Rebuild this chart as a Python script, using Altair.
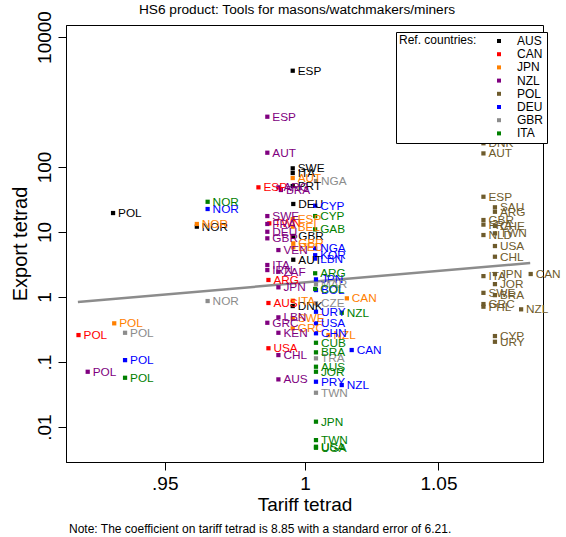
import altair as alt
import pandas as pd

ref_countries = ["AUS", "CAN", "JPN", "NZL", "POL", "DEU", "GBR", "ITA"]
ref_colors = ["#000000", "#FF0000", "#FF8000", "#800080", "#6E5B2C", "#0000FF", "#8C8C8C", "#008000"]

ref = (["AUS"] * 10 + ["CAN"] * 6 + ["JPN"] * 12 + ["NZL"] * 19 + ["POL"] * 23
       + ["DEU"] * 14 + ["GBR"] * 7 + ["ITA"] * 15)

partner = [
    # AUS
    "POL", "NOR", "ESP", "SWE", "ITA", "PRT", "DEU", "GBR", "AUT", "DNK",
    # CAN
    "POL", "ESP", "TWN", "ARG", "AUS", "USA",
    # JPN
    "POL", "NOR", "AUT", "ESP", "BEL", "GBR", "DEU", "ITA", "SWE", "GRC", "CAN", "NZL",
    # NZL
    "POL", "ESP", "AUT", "ARG", "BRA", "SWE", "FRA", "DEU", "GBR", "VEN", "ITA", "IRN",
    "ZAF", "JPN", "LBN", "GRC", "KEN", "CHL", "AUS",
    # POL
    "DNK", "AUT", "ESP", "SAU", "ARG", "GBR", "FRA", "CHE", "NLD", "TWN", "USA", "CHL",
    "ITA", "JPN", "CAN", "JOR", "SWE", "BRA", "GRC", "PHL", "NZL", "CYP", "URY",
    # DEU
    "NOR", "POL", "CYP", "NGA", "KOR", "LBN", "JPN", "BOL", "URY", "USA", "CHN", "CAN",
    "PRY", "NZL",
    # GBR
    "NOR", "POL", "NGA", "MAR", "CZE", "TRA", "TWN",
    # ITA
    "NOR", "POL", "CYP", "GAB", "ARG", "COL", "NZL", "CUB", "BRA", "AUS", "JOR", "JPN",
    "TWN", "USA", "UGA",
]

tariff = [
    # AUS
    0.9322, 0.9612, 0.9955, 0.9955, 0.9955, 0.9955, 0.9957, 0.9957, 0.9957, 0.9955,
    # CAN
    0.9205, 0.9831, 0.9870, 0.9867, 0.9867, 0.9867,
    # JPN
    0.9326, 0.9612, 0.9955, 0.9955, 0.9955, 0.9957, 0.9957, 0.9955, 0.9955, 0.9955,
    1.0154, 1.0086,
    # NZL
    0.9236, 0.9863, 0.9863, 0.9903, 0.9912, 0.9863, 0.9863, 0.9863, 0.9863, 0.9903,
    0.9863, 0.9863, 0.9903, 0.9903, 0.9903, 0.9863, 0.9903, 0.9903, 0.9903,
    # POL
    1.0674, 1.0674, 1.0674, 1.0719, 1.0719, 1.0674, 1.0674, 1.0719, 1.0674, 1.0719,
    1.0719, 1.0719, 1.0674, 1.0719, 1.0860, 1.0719, 1.0674, 1.0719, 1.0674, 1.0674,
    1.0822, 1.0719, 1.0719,
    # DEU
    0.9650, 0.9363, 1.0037, 1.0037, 1.0037, 1.0037, 1.0040, 1.0040, 1.0040, 1.0040,
    1.0040, 1.0172, 1.0040, 1.0135,
    # GBR
    0.9650, 0.9363, 1.0040, 1.0040, 1.0040, 1.0040, 1.0040,
    # ITA
    0.9650, 0.9363, 1.0037, 1.0037, 1.0037, 1.0037, 1.0135, 1.0040, 1.0040, 1.0040,
    1.0040, 1.0040, 1.0040, 1.0040, 1.0040,
]

export = [
    # AUS
    19.6, 12.1, 3030, 95.5, 80.9, 51.0, 27.0, 8.7, 3.75, 0.727,
    # CAN
    0.260, 48.7, 13.6, 1.83, 0.81, 0.163,
    # JPN
    0.394, 13.3, 67.7, 15.8, 12.1, 6.70, 5.82, 0.88, 0.470, 0.330, 0.955, 0.260,
    # NZL
    0.0709, 594, 166, 48.7, 44.3, 17.6, 13.3, 10.1, 8.0, 5.28, 3.11, 2.6,
    2.45, 1.41, 0.487, 0.402, 0.282, 0.128, 0.0541,
    # POL
    232, 162, 34.9, 24.0, 20.5, 15.3, 13.0, 12.4, 8.99, 9.55, 6.09, 4.17,
    2.10, 2.26, 2.26, 1.58, 1.16, 1.07, 0.780, 0.710, 0.647, 0.251, 0.205,
    # DEU
    22.6, 0.107, 25.4, 5.6, 4.4, 3.9, 1.87, 1.28, 0.594, 0.394, 0.277, 0.153,
    0.0498, 0.0443,
    # GBR
    0.868, 0.282, 60.9, 1.57, 0.80, 0.114, 0.0337,
    # ITA
    29.2, 0.0573, 17.6, 11.0, 2.32, 1.33, 0.573, 0.198, 0.141, 0.0847, 0.0709,
    0.0121, 0.0063, 0.00498, 0.0048,
]

fit_tariff = [0.9203, 1.0858]
fit_export = [0.84, 3.33]

title_text = "HS6 product:  Tools for masons/watchmakers/miners"
note_text = "Note: The coefficient on tariff tetrad is 8.85 with a standard error of 6.21."

df = pd.DataFrame({"ref": ref, "partner": partner, "tariff": tariff, "export": export})
fit_df = pd.DataFrame({"tariff": fit_tariff, "export": fit_export})
note_df = pd.DataFrame({"note": [note_text]})

FONT = "Liberation Sans"

xscale = alt.Scale(type="log", domain=[0.9163, 1.0909], nice=False)
yscale = alt.Scale(type="log", domain=[0.0029, 15300], nice=False)
cscale = alt.Scale(domain=ref_countries, range=ref_colors)

xaxis = alt.Axis(
    title="Tariff tetrad", values=[0.95, 1.0, 1.05],
    labelExpr="datum.value == 0.95 ? '.95' : format(datum.value, '')",
    tickSize=8, labelFontSize=19, titleFontSize=19, labelPadding=4, titlePadding=2,
    grid=False, titleFontWeight="normal",
)
yaxis = alt.Axis(
    title="Export tetrad", values=[0.01, 0.1, 1, 10, 100, 10000],
    labelExpr="datum.value == 0.01 ? '.01' : datum.value == 0.1 ? '.1' : format(datum.value, 'd')",
    tickSize=8, labelFontSize=19, titleFontSize=20, labelAngle=-90,
    labelAlign="center", labelBaseline="alphabetic", labelPadding=8,
    titlePadding=5, grid=False, titleFontWeight="normal",
)

points = alt.Chart(df).mark_square(size=18, filled=True, opacity=1).encode(
    x=alt.X("tariff:Q", scale=xscale, axis=xaxis),
    y=alt.Y("export:Q", scale=yscale, axis=yaxis),
    color=alt.Color(
        "ref:N", scale=cscale,
        legend=alt.Legend(
            title="Ref. countries:", orient="none", legendX=330, legendY=7,
            titleOrient="left", titleAnchor="start", titleFontSize=12,
            titleFontWeight="normal", titlePadding=16, titleBaseline="top",
            labelFontSize=12, labelOffset=12, symbolType="square", symbolSize=16,
            symbolStrokeWidth=0, rowPadding=1.2, padding=3, strokeColor="black",
            fillColor="white",
        ),
    ),
)

labels = alt.Chart(df).mark_text(align="left", baseline="middle", dx=5, fontSize=11.8).encode(
    x=alt.X("tariff:Q", scale=xscale),
    y=alt.Y("export:Q", scale=yscale),
    text="partner:N",
    color=alt.Color("ref:N", scale=cscale, legend=None),
)

fit = alt.Chart(fit_df).mark_line(color="#8C8C8C", strokeWidth=2.5).encode(
    x=alt.X("tariff:Q", scale=xscale),
    y=alt.Y("export:Q", scale=yscale),
)

note = alt.Chart(note_df).mark_text(align="left", baseline="middle", fontSize=12, color="black").encode(
    x=alt.value(3), y=alt.value(504), text="note:N",
)

chart = alt.layer(fit, points, labels, note).properties(
    width=477, height=437,
    padding={"left": 66, "top": 25, "right": 23, "bottom": 75},
    autosize=alt.AutoSizeParams(type="none"),
    title=alt.TitleParams(text=title_text, fontSize=13.7, fontWeight="normal",
                          anchor="middle", offset=-6, dx=-7.5, color="black"),
).configure(font=FONT).configure_view(
    stroke="black", strokeWidth=1
).configure_axis(
    domainColor="black", tickColor="black", labelColor="black", titleColor="black",
    labelFont=FONT, titleFont=FONT,
).configure_legend(labelFont=FONT, titleFont=FONT, labelColor="black", titleColor="black")

chart.save("out.html", embed_options={"renderer": "svg", "actions": False})
